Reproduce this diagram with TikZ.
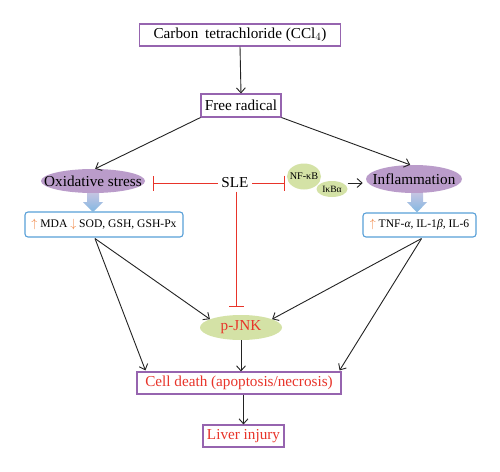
\documentclass[tikz,border=0pt]{standalone}
\usepackage{fontspec}
\setmainfont{Liberation Serif}
\usetikzlibrary{arrows.meta,shapes.geometric,calc}
\definecolor{boxpurple}{RGB}{150,100,175}
\definecolor{ellpurple}{RGB}{186,156,202}
\definecolor{ellgreen}{RGB}{212,226,166}
\definecolor{boxblue}{RGB}{88,160,216}
\definecolor{myred}{RGB}{232,52,42}
\definecolor{myorange}{RGB}{240,130,60}
\definecolor{linegray}{RGB}{35,35,35}
\tikzset{
  mainfont/.style={font=\fontsize{15.2}{17}\selectfont},
  pbox/.style={draw=boxpurple, line width=1.1pt, inner sep=0pt, mainfont},
  bbox/.style={draw=boxblue, line width=1.1pt, rounded corners=3pt, inner sep=0pt, font=\fontsize{11.6}{13}\selectfont},
  pell/.style={ellipse, fill=ellpurple, inner sep=0pt},
  gell/.style={ellipse, fill=ellgreen, inner sep=0pt},
  conn/.style={draw=linegray, line width=0.9pt, -{Straight Barb[length=5pt,width=9pt,line width=0.9pt]}},
  inhib/.style={draw=myred, line width=0.9pt, -{Bar[width=15pt,line width=1pt]}},
  bluearrow/.style={top color=ellpurple!70!boxblue!60, bottom color=boxblue!75, draw=none}
}
\begin{document}
\begin{tikzpicture}[x=1pt,y=-1pt]
\useasboundingbox (0,0) rectangle (500,471);
\fill[white] (0,0) rectangle (500,471);

\node[pbox, minimum width=201pt, minimum height=22pt] (ccl4) at (240,35) {Carbon\hspace{0.45em}tetrachloride (CCl$_4$)};
\node[pbox, minimum width=80pt, minimum height=23pt] (free) at (241,105.5) {Free radical};

\node[pell, minimum width=104pt, minimum height=24pt, label={[mainfont]center:Oxidative stress}] (ox) at (93,181) {};
\node[pell, minimum width=96pt, minimum height=28pt, label={[mainfont]center:Inflammation}] (infl) at (414,179) {};

\node[gell, minimum width=34pt, minimum height=26pt, label={[font=\fontsize{10.2}{11}\selectfont, inner sep=0pt]center:NF-κB}] (nfkb) at (304,176.5) {};
\node[gell, minimum width=31pt, minimum height=16pt, label={[font=\fontsize{9.6}{10}\selectfont, inner sep=0pt]center:IκBα}] (ikba) at (332,189) {};

\node[mainfont] (sle) at (235,183) {SLE};

\node[bbox, minimum width=158pt, minimum height=25pt] (mda) at (104,224.5)
  {\textcolor{myorange}{$\uparrow$} MDA \textcolor{myorange}{$\downarrow$} SOD, GSH, GSH-Px};
\node[bbox, minimum width=113pt, minimum height=24pt] (tnf) at (419.5,225)
  {\textcolor{myorange}{$\uparrow$} TNF-{\itshape α}, IL-1{\itshape β}, IL-6};

\node[gell, minimum width=82pt, minimum height=25pt, label={[mainfont, text=myred]center:p-JNK}] (pjnk) at (241,327.5) {};
\node[pbox, minimum width=204pt, minimum height=22pt, text=myred] (cell) at (239,383) {Cell death (apoptosis/necrosis)};
\node[pbox, minimum width=81pt, minimum height=22pt, text=myred] (liver) at (243.5,436) {Liver injury};

% blue thick arrows
\path[bluearrow] (87,193) -- (99,193) -- (99,202) -- (103,202) -- (93,212) -- (83,202) -- (87,202) -- cycle;
\path[bluearrow] (411,193) -- (423,193) -- (423,202) -- (427,202) -- (417,212.5) -- (407,202) -- (411,202) -- cycle;

% coordinates
\coordinate (mdaout) at ($(mda.south)+(-9,1)$);
\coordinate (tnfout) at ($(tnf.south)+(2,1)$);
\coordinate (oxbar) at ($(ox.east)+(7.5,2)$);
\coordinate (nfbar) at ($(nfkb.west)+(-2,6.5)$);
\coordinate (jbar) at (236,307);
\coordinate (celll) at ($(cell.north west)+(9,-1)$);
\coordinate (cellr) at ($(cell.north east)+(-2,-1)$);

% connectors
\draw[conn] (ccl4.south) -- (free.north);
\draw[conn] (free.south west) -- (ox.80);
\draw[conn] (free.south east) -- (infl.105);
\draw[conn] ([yshift=6pt]ikba.east) -- ++(15,0);

\draw[conn] (mdaout) -- (pjnk.165);
\draw[conn] (mdaout) -- (celll);
\draw[conn] (tnfout) -- (pjnk.15);
\draw[conn] (tnfout) -- (cellr);
\draw[conn] (pjnk.south) -- (pjnk.south |- cell.north);
\draw[conn] (cell.south -| liver.north) -- (liver.north);

% inhibition
\draw[inhib] (sle.west) -- (oxbar);
\draw[inhib] (sle.east) -- (nfbar);
\draw[inhib] (sle.south -| jbar) -- (jbar);
\end{tikzpicture}
\end{document}
